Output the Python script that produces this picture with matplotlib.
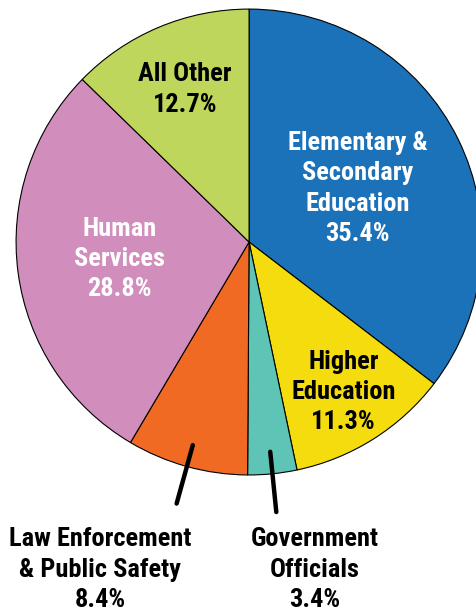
import numpy as np
import matplotlib
matplotlib.use('Agg')
import matplotlib.pyplot as plt
from matplotlib import font_manager

# data (clockwise from 12 o'clock)
labels = ['Elementary &\nSecondary\nEducation', 'Higher\nEducation', 'Government\nOfficials',
          'Law Enforcement\n& Public Safety', 'Human\nServices', 'All Other']
values = [35.4, 11.3, 3.4, 8.4, 28.8, 12.7]
colors = ['#1b72b9', '#f5dc0e', '#5ec4b6', '#f06a23', '#d18dbc', '#bdd65b']
text_colors = ['white', 'black', 'black', 'black', 'white', 'black']
inside = [True, True, False, False, True, True]
label_r = [0.52, 0.76, None, None, 0.56, 0.71]

# pick a narrow bold face if one is installed
fonts = font_manager.fontManager.ttflist
names = {f.name for f in fonts}
family, stretch, fs = 'DejaVu Sans', 'normal', 15
for cand, size in [('Liberation Sans Narrow', 18.5), ('Roboto Condensed', 19), ('DejaVu Sans Condensed', 16.5)]:
    if cand in names:
        family, fs = cand, size
        break
else:
    if any(f.name == 'DejaVu Sans' and f.stretch in ('condensed', 'semi-condensed') for f in fonts):
        family, stretch, fs = 'DejaVu Sans', 'condensed', 16.5
plt.rcParams['font.family'] = [family, 'DejaVu Sans']
tkw = dict(fontsize=fs, fontweight='bold', fontstretch=stretch, linespacing=1.33)

fig = plt.figure(figsize=(4.76, 6.11), dpi=100)
ax = fig.add_axes([0, 0, 1, 1])
wedges, _ = ax.pie(values, colors=colors, startangle=90, counterclock=False, radius=1,
                   wedgeprops=dict(edgecolor='black', linewidth=0.8))

for w, lab, v, tc, ins, r in zip(wedges, labels, values, text_colors, inside, label_r):
    mid = np.deg2rad((w.theta1 + w.theta2) / 2)
    txt = f'{lab}\n{v}%'
    if ins:
        ax.text(r * np.cos(mid), r * np.sin(mid), txt, ha='center', va='center', color=tc, **tkw)
    else:
        # leader line outward along the slice middle
        ax.plot([0.905 * np.cos(mid), 1.165 * np.cos(mid)],
                [0.905 * np.sin(mid), 1.165 * np.sin(mid)],
                color='black', linewidth=3.2, solid_capstyle='round')

# outside labels under the leader lines
ax.text(-0.64, -1.225, f'{labels[3]}\n{values[3]}%', ha='center', va='top', color='black', **tkw)
ax.text(0.283, -1.225, f'{labels[2]}\n{values[2]}%', ha='center', va='top', color='black', **tkw)

ax.set_aspect('auto')
ax.set_xlim(-1.069, 0.974)
ax.set_ylim(-1.584, 1.039)
ax.axis('off')

fig.savefig('out.png', dpi=100)
